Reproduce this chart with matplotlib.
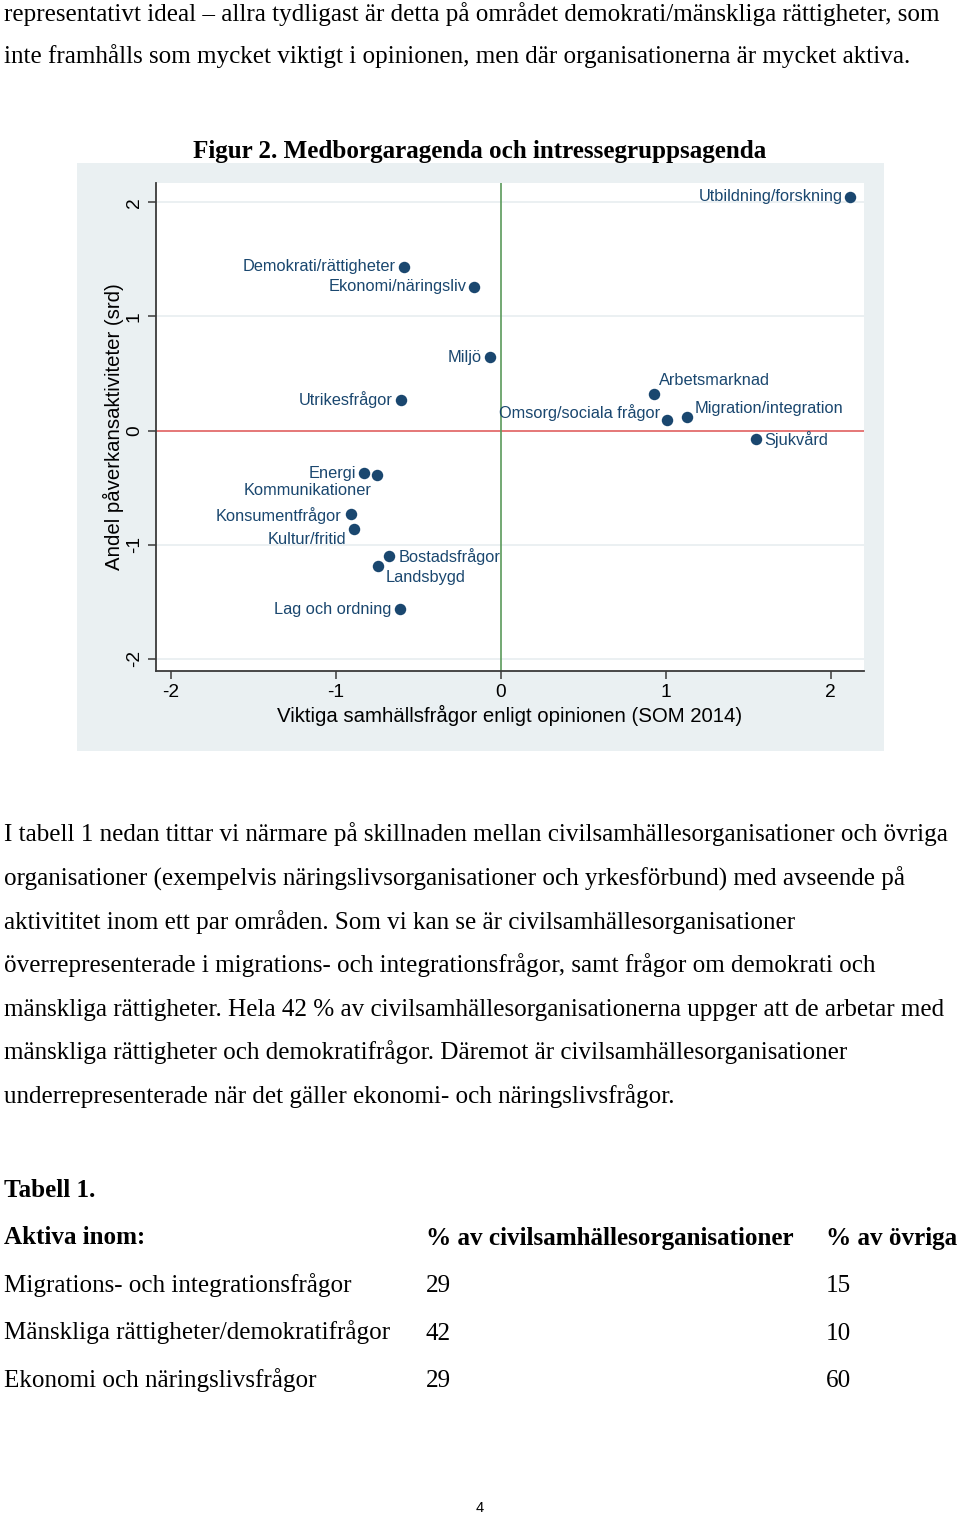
import matplotlib
matplotlib.use('Agg')
import matplotlib.pyplot as plt
from matplotlib.patches import Rectangle

W, H = 960, 1513

# scatter data: importance in opinion (x) vs share of lobbying activity (y)
labels = ['Utbildning/forskning', 'Demokrati/rättigheter', 'Ekonomi/näringsliv', 'Miljö',
          'Arbetsmarknad', 'Utrikesfrågor', 'Migration/integration', 'Omsorg/sociala frågor',
          'Sjukvård', 'Energi', 'Kommunikationer', 'Konsumentfrågor', 'Kultur/fritid',
          'Bostadsfrågor', 'Landsbygd', 'Lag och ordning']
opinion = [2.12, -0.586, -0.158, -0.065, 0.929, -0.606, 1.129, 1.01,
           1.547, -0.828, -0.75, -0.907, -0.889, -0.675, -0.742, -0.608]
activity = [2.05, 1.436, 1.26, 0.645, 0.325, 0.27, 0.12, 0.09,
            -0.07, -0.375, -0.39, -0.733, -0.859, -1.097, -1.19, -1.56]
# label placement (pixel offset from marker, alignment)
label_pos = [(-8, 0, 'right'), (-8, 0, 'right'), (-8, 0, 'right'), (-8, 0, 'right'),
             (5, 13, 'left'), (-8, 0, 'right'), (8, 8, 'left'), (-7, 8, 'right'),
             (9, -1, 'left'), (-8, 0, 'right'), (-5, -15, 'right'), (-9, -1, 'right'),
             (-8, -11, 'right'), (9, -1, 'left'), (8, -11, 'left'), (-9, -1, 'right')]

ticks = [-2, -1, 0, 1, 2]

top_lines = ['representativt ideal \u2013 allra tydligast är detta på området demokrati/mänskliga rättigheter, som',
             'inte framhålls som mycket viktigt i opinionen, men där organisationerna är mycket aktiva.']
fig_title = 'Figur 2. Medborgaragenda och intressegruppsagenda'
para_lines = ['I tabell 1 nedan tittar vi närmare på skillnaden mellan civilsamhällesorganisationer och övriga',
              'organisationer (exempelvis näringslivsorganisationer och yrkesförbund) med avseende på',
              'aktivititet inom ett par områden. Som vi kan se är civilsamhällesorganisationer',
              'överrepresenterade i migrations- och integrationsfrågor, samt frågor om demokrati och',
              'mänskliga rättigheter. Hela 42 % av civilsamhällesorganisationerna uppger att de arbetar med',
              'mänskliga rättigheter och demokratifrågor. Däremot är civilsamhällesorganisationer',
              'underrepresenterade när det gäller ekonomi- och näringslivsfrågor.']
table_header = ['Aktiva inom:', '% av civilsamhällesorganisationer', '% av övriga']
table_rows = ['Migrations- och integrationsfrågor', 'Mänskliga rättigheter/demokratifrågor',
              'Ekonomi och näringslivsfrågor']
pct_civil = [29, 42, 29]
pct_other = [15, 10, 60]

serif = 'Liberation Serif'
sans = 'Liberation Sans'
navy = '#1a476f'
body_size = 18.1


def fy(y):
    return 1 - y / H


fig = plt.figure(figsize=(W / 100, H / 100), dpi=100)
fig.patch.set_facecolor('white')

# text above the figure
for i, line in enumerate(top_lines):
    fig.text(4 / W, fy(20.5 + i * 43), line, family=serif, fontsize=body_size, va='baseline')
fig.text(480 / W, fy(158), fig_title, family=serif, fontsize=body_size, weight='bold',
         ha='center', va='baseline')

# graph region background
fig.patches.append(Rectangle((77 / W, fy(751)), (884 - 77) / W, (751 - 163) / H,
                             transform=fig.transFigure, facecolor='#eaf0f2', edgecolor='none', zorder=-5))

ax = fig.add_axes([156 / W, fy(671), (864 - 156) / W, (671 - 183) / H])
ax.set_zorder(2)
ax.set_facecolor('white')
ax.set_xlim(-2.088, 2.203)
ax.set_ylim(-2.107, 2.170)

for t in ticks:
    if t != 0:
        ax.axhline(t, color='#e8eef0', lw=1.2, zorder=1)
ax.axhline(0, color='#e06060', lw=1.2, zorder=2)
ax.axvline(0, color='#5a9a5a', lw=1.2, zorder=2)

ax.scatter(opinion, activity, s=68, color=navy, zorder=3, linewidths=0)
for lab, x, y, (dx, dy, ha) in zip(labels, opinion, activity, label_pos):
    ax.annotate(lab, (x, y), xytext=(dx, dy), textcoords='offset pixels', ha=ha, va='center',
                family=sans, fontsize=11.8, color=navy, zorder=4)

for side in ['top', 'right']:
    ax.spines[side].set_visible(False)
for side in ['left', 'bottom']:
    ax.spines[side].set_color('#3a3a3a')
    ax.spines[side].set_linewidth(1.3)

ax.set_xticks(ticks)
ax.set_yticks(ticks)
ax.set_xticklabels([str(t) for t in ticks], family=sans, fontsize=13.8)
ax.set_yticklabels([str(t) for t in ticks], family=sans, fontsize=13.8, rotation=90, va='center')
ax.tick_params(length=5.5, width=1.1, color='#3a3a3a', pad=4)
ax.set_xlabel('Viktiga samhällsfrågor enligt opinionen (SOM 2014)', family=sans, fontsize=14.7, labelpad=3)
ax.set_ylabel('Andel påverkansaktiviteter (srd)', family=sans, fontsize=14.7, labelpad=1.5)

# paragraph
for i, line in enumerate(para_lines):
    fig.text(4 / W, fy(841.5 + i * 43.6), line, family=serif, fontsize=body_size, va='baseline')

# table
fig.text(4 / W, fy(1197), 'Tabell 1.', family=serif, fontsize=body_size, weight='bold', va='baseline')
col_x = [4, 426, 826]
for cx, head in zip(col_x, table_header):
    fig.text(cx / W, fy(1244.5), head, family=serif, fontsize=body_size, weight='bold', va='baseline')
for i, (name, a, b) in enumerate(zip(table_rows, pct_civil, pct_other)):
    yb = fy(1292 + i * 47.5)
    fig.text(col_x[0] / W, yb, name, family=serif, fontsize=body_size, va='baseline')
    fig.text(col_x[1] / W, yb, str(a), family=serif, fontsize=body_size, va='baseline')
    fig.text(col_x[2] / W, yb, str(b), family=serif, fontsize=body_size, va='baseline')

fig.text(480 / W, fy(1512), '4', family=sans, fontsize=10.5, ha='center', va='baseline')

fig.savefig('out.png', dpi=100)
